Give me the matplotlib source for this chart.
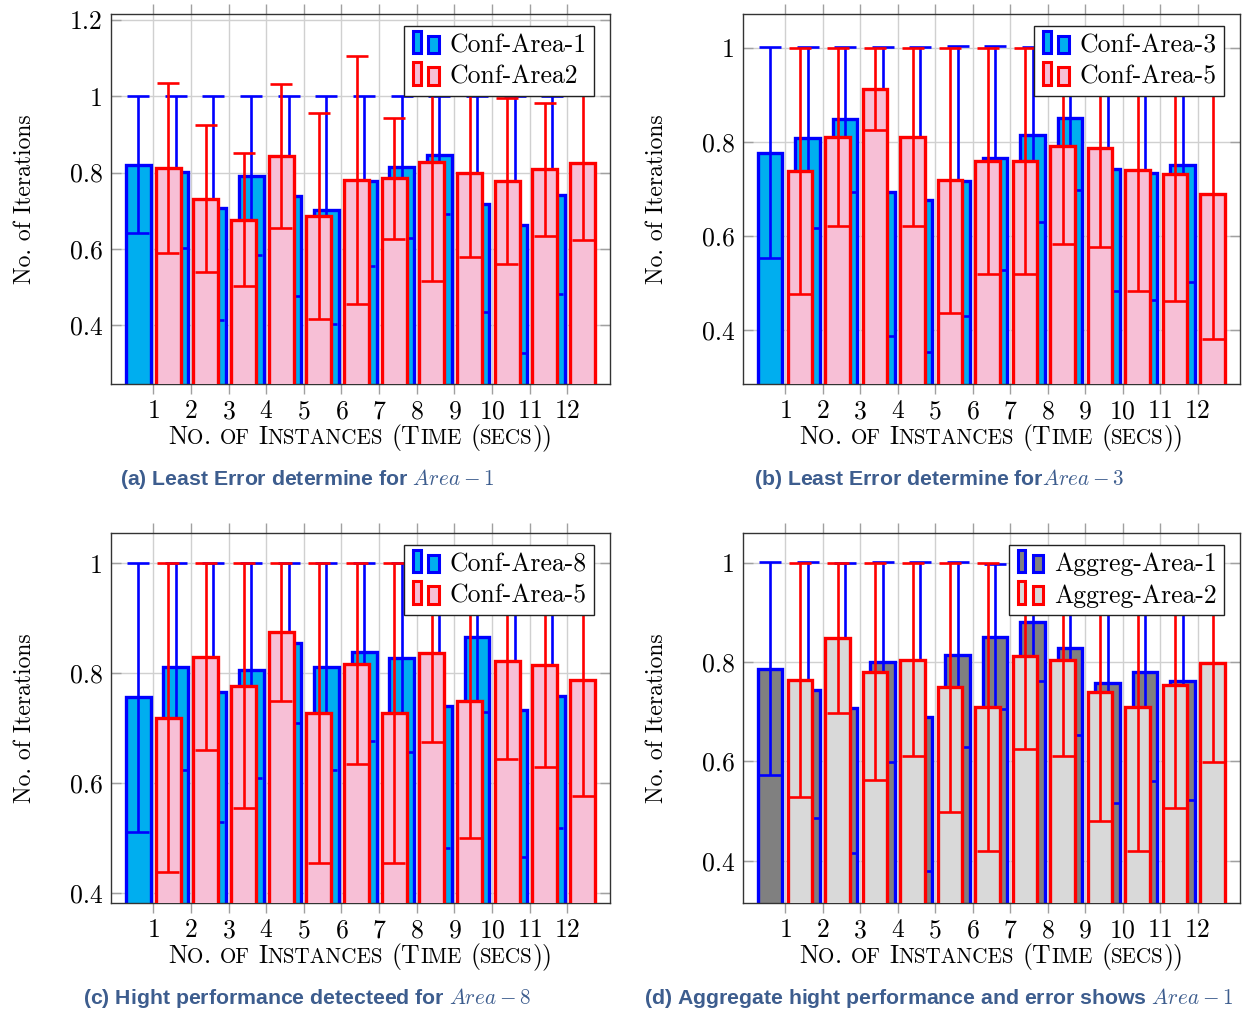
import matplotlib
matplotlib.use("Agg")
import matplotlib.pyplot as plt
from matplotlib.patches import Rectangle, Patch
from matplotlib.legend_handler import HandlerBase
from matplotlib.offsetbox import TextArea, HPacker, AnchoredOffsetbox
import numpy as np

plt.rcParams['font.family'] = 'cmr10'
plt.rcParams['mathtext.fontset'] = 'cm'
plt.rcParams['axes.unicode_minus'] = False
plt.rcParams['axes.formatter.use_mathtext'] = True

# --- data ---
instances = [1, 2, 3, 4, 5, 6, 7, 8, 9, 10, 11, 12]

a_blue = [0.820, 0.801, 0.706, 0.792, 0.738, 0.701, 0.777, 0.814, 0.846, 0.717, 0.663, 0.741]
a_blue_err = [0.180, 0.199, 0.294, 0.208, 0.262, 0.299, 0.223, 0.186, 0.154, 0.283, 0.337, 0.259]
a_red = [0.811, 0.731, 0.676, 0.843, 0.686, 0.781, 0.785, 0.828, 0.799, 0.778, 0.808, 0.826]
a_red_err = [0.223, 0.193, 0.175, 0.189, 0.270, 0.325, 0.159, 0.314, 0.220, 0.217, 0.174, 0.202]

b_blue = [0.777, 0.809, 0.848, 0.694, 0.677, 0.716, 0.765, 0.815, 0.850, 0.742, 0.733, 0.751]
b_blue_err = [0.224, 0.192, 0.154, 0.307, 0.324, 0.287, 0.238, 0.186, 0.152, 0.260, 0.270, 0.250]
b_red = [0.738, 0.811, 0.913, 0.811, 0.718, 0.760, 0.760, 0.791, 0.788, 0.741, 0.731, 0.690]
b_red_err = [0.262, 0.189, 0.087, 0.189, 0.282, 0.240, 0.240, 0.209, 0.212, 0.259, 0.269, 0.310]

c_blue = [0.756, 0.812, 0.765, 0.805, 0.855, 0.812, 0.838, 0.828, 0.741, 0.865, 0.733, 0.759]
c_blue_err = [0.244, 0.188, 0.235, 0.195, 0.145, 0.188, 0.162, 0.172, 0.259, 0.135, 0.267, 0.241]
c_red = [0.719, 0.830, 0.777, 0.875, 0.727, 0.817, 0.727, 0.837, 0.750, 0.822, 0.815, 0.788]
c_red_err = [0.281, 0.170, 0.223, 0.125, 0.273, 0.183, 0.273, 0.163, 0.250, 0.178, 0.185, 0.212]

d_blue = [0.787, 0.744, 0.708, 0.800, 0.690, 0.815, 0.851, 0.881, 0.828, 0.758, 0.781, 0.762]
d_blue_err = [0.215, 0.257, 0.292, 0.202, 0.311, 0.186, 0.146, 0.120, 0.175, 0.242, 0.221, 0.240]
d_red = [0.764, 0.849, 0.781, 0.805, 0.749, 0.710, 0.813, 0.805, 0.740, 0.710, 0.753, 0.799]
d_red_err = [0.236, 0.151, 0.219, 0.195, 0.251, 0.290, 0.187, 0.195, 0.260, 0.290, 0.247, 0.201]

legend_a = ["Conf-Area-1", "Conf-Area2"]
legend_b = ["Conf-Area-3", "Conf-Area-5"]
legend_c = ["Conf-Area-8", "Conf-Area-5"]
legend_d = ["Aggreg-Area-1", "Aggreg-Area-2"]

captions = [
    "(a) Least Error determine for $Area-1$",
    "(b) Least Error determine for$Area-3$",
    "(c) Hight performance detecteed for $Area-8$",
    "(d) Aggregate hight performance and error shows $Area-1$",
]
xlabel = "No. of Instances (Time (secs))"
ylabel = "No. of Iterations"

CYAN = "#00AEEF"
PINK = "#F7BFD6"
DARK = "#808080"
LIGHT = "#D9D9D9"
CAP_COLOR = "#3D5D8E"

W, H = 1242, 1011
fig = plt.figure(figsize=(W / 100, H / 100), dpi=100)


class BarIcon(HandlerBase):
    # pgfplots-style ybar legend icon: two little bars
    def create_artists(self, legend, orig, xd, yd, width, height, fontsize, trans):
        fc, ec = orig.get_facecolor(), orig.get_edgecolor()
        h = height * 1.25
        y0 = -yd - 0.05 * height
        r1 = Rectangle((-xd + 0.04 * width, y0), 0.28 * width, h,
                       fc=fc, ec=ec, lw=2.2, transform=trans)
        r2 = Rectangle((-xd + 0.58 * width, y0), 0.36 * width, h * 0.78,
                       fc=fc, ec=ec, lw=2.2, transform=trans)
        return [r1, r2]


def smallcaps(ax, text, size, y):
    words = []
    for word in text.split(" "):
        runs = []
        cur, low = "", None
        for ch in word:
            l = ch.islower()
            if low is not None and l != low:
                runs.append((cur, low))
                cur = ""
            cur += ch
            low = l
        runs.append((cur, low))
        kids = [TextArea(s.upper() if l else s,
                         textprops=dict(fontsize=size * 0.82 if l else size, family='cmr10'))
                for s, l in runs]
        words.append(HPacker(children=kids, align="baseline", pad=0, sep=0))
    box = HPacker(children=words, align="baseline", pad=0, sep=size * 0.34)
    ab = AnchoredOffsetbox(loc="upper center", child=box, pad=0, borderpad=0, frameon=False,
                           bbox_to_anchor=(0.5, y), bbox_transform=ax.transAxes)
    ax.add_artist(ab)


def panel(rect, blue, blue_err, red, red_err, bfc, rfc, ylim, yticks, names, caption, capx, capy):
    l, t, r, b = rect
    ax = fig.add_axes([l / W, 1 - b / H, (r - l) / W, (b - t) / H])
    x = np.array(instances)
    ebk = dict(lw=1.9, capsize=8, capthick=1.9, ls="none")
    ax.bar(x - 0.4, blue, 0.66, color=bfc, edgecolor="#0000FF", lw=2.4, zorder=2)
    ax.errorbar(x - 0.4, blue, yerr=blue_err, ecolor="#0000FF", zorder=2.5, **ebk)
    ax.bar(x + 0.4, red, 0.66, color=rfc, edgecolor="#FF0000", lw=2.4, zorder=3)
    ax.errorbar(x + 0.4, red, yerr=red_err, ecolor="#FF0000", zorder=3.5, **ebk)

    ax.set_xlim(-0.12, 13.13)
    ax.set_ylim(*ylim)
    ax.set_xticks(instances)
    ax.set_yticks(yticks)
    ax.set_yticklabels(["%g" % v for v in yticks])
    ax.set_axisbelow(True)
    ax.grid(True, color="#D0D0D0", lw=1.0)
    ax.tick_params(axis="x", direction="out", top=True, length=7, width=1, color="#A0A0A0",
                   labelsize=18.5, pad=4)
    ax.tick_params(axis="y", direction="in", right=True, length=7, width=1, color="#A0A0A0",
                   labelsize=18.5, pad=6)
    for s in ax.spines.values():
        s.set_linewidth(1.0)
        s.set_color("#333333")
    ax.set_ylabel(ylabel, fontsize=17)
    ax.yaxis.set_label_coords(-0.151, 0.5)
    smallcaps(ax, xlabel, 18.5, -0.108)

    handles = [Patch(facecolor=bfc, edgecolor="#0000FF"), Patch(facecolor=rfc, edgecolor="#FF0000")]
    leg = ax.legend(handles, names, handler_map={Patch: BarIcon()}, loc="upper right",
                    bbox_to_anchor=(0.968, 0.968), fontsize=18.5, frameon=True, fancybox=False,
                    edgecolor="#222222", framealpha=1, borderpad=0.3, handlelength=1.1,
                    handletextpad=0.35, labelspacing=0.3, borderaxespad=0)
    leg.get_frame().set_linewidth(1.0)
    leg.set_zorder(10)
    fig.text(capx / W, 1 - capy / H, caption, ha="center", va="center", fontsize=15.3,
             family="Liberation Sans", weight="bold", color=CAP_COLOR)
    return ax


panel((111, 14, 610, 384), a_blue, a_blue_err, a_red, a_red_err, CYAN, PINK,
      (0.245, 1.216), [0.4, 0.6, 0.8, 1, 1.2], legend_a, captions[0], 307, 479)
panel((743, 14, 1240, 384), b_blue, b_blue_err, b_red, b_red_err, CYAN, PINK,
      (0.285, 1.072), [0.4, 0.6, 0.8, 1], legend_b, captions[1], 939, 479)
panel((111, 533, 610, 903), c_blue, c_blue_err, c_red, c_red_err, CYAN, PINK,
      (0.382, 1.055), [0.4, 0.6, 0.8, 1], legend_c, captions[2], 307, 998)
panel((743, 533, 1240, 903), d_blue, d_blue_err, d_red, d_red_err, DARK, LIGHT,
      (0.315, 1.06), [0.4, 0.6, 0.8, 1], legend_d, captions[3], 939, 998)

fig.savefig("out.png", dpi=100)
